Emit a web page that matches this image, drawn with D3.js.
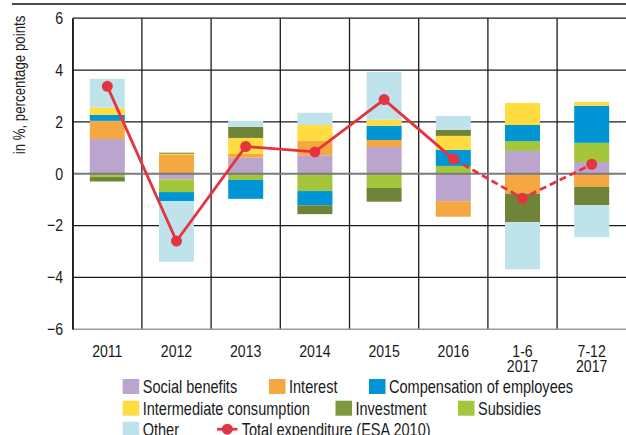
<!DOCTYPE html>
<html><head><meta charset="utf-8">
<script src="https://cdn.jsdelivr.net/npm/d3@7"></script>
<style>
html,body{margin:0;padding:0;background:#fff;}
svg{display:block;}
text{font-family:"Liberation Sans",Arial,sans-serif;fill:#1a1a1a;}
</style></head>
<body>
<svg id="chart" width="626" height="435"></svg>
<script>
const categories = ["2011","2012","2013","2014","2015","2016","1-6 2017","7-12 2017"];
const socialBenefits = [1.34, -0.22, 0.62, 0.71, 1.03, -1.06, 0.88, 0.45];
const interest       = [0.70, 0.72, 0.14, 0.55, 0.27, -0.60, -0.77, -0.51];
const subsidies      = [-0.13, -0.49, -0.24, -0.67, -0.55, 0.30, 0.38, 0.74];
const compensation   = [0.23, -0.35, -0.73, -0.55, 0.55, 0.62, 0.62, 1.43];
const intermediate   = [0.28, 0.05, 0.62, 0.62, 0.23, 0.54, 0.85, 0.15];
const investment     = [-0.17, 0.04, 0.43, -0.34, -0.53, 0.23, -1.10, -0.70];
const other          = [1.11, -2.34, 0.23, 0.47, 1.85, 0.54, -1.82, -1.24];
const totalExpenditure = [3.37, -2.60, 1.05, 0.84, 2.86, 0.57, -0.95, 0.36];
const yTicks = [-6,-4,-2,0,2,4,6];

const seriesDefs = [
  {key:"social", name:"Social benefits", values:socialBenefits, color:"#bba4cd"},
  {key:"interest", name:"Interest", values:interest, color:"#f5a742"},
  {key:"subsidies", name:"Subsidies", values:subsidies, color:"#a3c63b"},
  {key:"comp", name:"Compensation of employees", values:compensation, color:"#0096d6"},
  {key:"inter", name:"Intermediate consumption", values:intermediate, color:"#ffdc3f"},
  {key:"invest", name:"Investment", values:investment, color:"#6f8339"},
  {key:"other", name:"Other", values:other, color:"#bfe3ea"}
];
const colorOf = Object.fromEntries(seriesDefs.map(s=>[s.key,s.color]));
const lineColor = "#e5333f";
const SX = 0.83; // horizontal condensing to mimic a narrow typeface

const table = categories.map((c,i)=>{
  const row = {cat:c};
  seriesDefs.forEach(s=>row[s.key]=s.values[i]);
  return row;
});

const svg = d3.select("#chart");
const pLeft = 72.7, pRight = 626.3, pTop = 18.2, pBottom = 329.2;

function ntext(parent, tx, ty, str, size, anchor, rot){
  const g = parent.append("g").attr("transform",`translate(${tx},${ty})` + (rot?` rotate(${rot})`:"") + ` scale(${SX},1)`);
  const t = g.append("text").attr("text-anchor",anchor||"start").attr("font-size",size);
  const parts = Array.isArray(str) ? str : [str];
  t.selectAll("tspan").data(parts).join("tspan")
    .attr("x",0).attr("dy",(p,i)=>i===0?0:15.5).text(p=>p);
  return t;
}

const x = d3.scaleBand().domain(categories).range([pLeft,pRight]).paddingInner(0.494).paddingOuter(0.247);
const y = d3.scaleLinear().domain([-6,6]).range([pBottom,pTop]);
const step = x.step();
const off = (step - x.bandwidth())/2;

// top rule
svg.append("line").attr("x1",12).attr("x2",626).attr("y1",4).attr("y2",4)
  .attr("stroke","#111").attr("stroke-width",1.3);

// horizontal gridlines
svg.append("g").selectAll("line").data(yTicks.filter(t=>t!==0 && t!==-6)).join("line")
  .attr("x1",pLeft).attr("x2",pRight).attr("y1",d=>y(d)).attr("y2",d=>y(d))
  .attr("stroke","#1a1a1a").attr("stroke-width",1.3);
// vertical gridlines
svg.append("g").selectAll("line").data(categories).join("line")
  .attr("x1",d=>x(d)-off).attr("x2",d=>x(d)-off).attr("y1",pTop).attr("y2",pBottom)
  .attr("stroke","#1a1a1a").attr("stroke-width",1.3);
// bottom line
svg.append("line").attr("x1",pLeft).attr("x2",pRight).attr("y1",y(-6)).attr("y2",y(-6))
  .attr("stroke","#9a9a9a").attr("stroke-width",1.5);

// bars
const stack = d3.stack().keys(seriesDefs.map(s=>s.key))
  .order(d3.stackOrderNone).offset(d3.stackOffsetDiverging);
const stacked = stack(table);
svg.append("g").selectAll("g").data(stacked).join("g")
  .attr("fill",d=>colorOf[d.key])
  .selectAll("rect").data(d=>d).join("rect")
  .attr("x",d=>x(d.data.cat)).attr("width",x.bandwidth())
  .attr("y",d=>y(Math.max(d[0],d[1])))
  .attr("height",d=>Math.abs(y(d[0])-y(d[1])));

// zero line
svg.append("line").attr("x1",pLeft).attr("x2",pRight).attr("y1",y(0)).attr("y2",y(0))
  .attr("stroke","#7a7a7a").attr("stroke-width",2);

// y axis
const yAxis = d3.axisLeft(y).tickValues(yTicks).tickSize(0).tickPadding(0).tickFormat(d3.format("d"));
const gy = svg.append("g").attr("transform",`translate(${pLeft},0)`).call(yAxis);
gy.select(".domain").attr("stroke","#1a1a1a").attr("stroke-width",1.3);
gy.selectAll("text").attr("font-size",17).attr("font-family",null).style("fill","#1a1a1a")
  .attr("x",-9.7/SX).attr("transform",`scale(${SX},1)`);

// x axis labels
categories.forEach(c=>{
  ntext(svg, x(c)+x.bandwidth()/2, 357, c.split(" "), 17, "middle");
});

// axis title
ntext(svg, 25, 85, "in %, percentage points", 16, "middle", -90);

// total line
const lx = d=>x(d)+x.bandwidth()/2;
const pts = categories.map((c,i)=>[lx(c), y(totalExpenditure[i])]);
const line = d3.line();
svg.append("path").attr("d",line(pts.slice(0,6))).attr("fill","none")
  .attr("stroke",lineColor).attr("stroke-width",2.8);
svg.append("path").attr("d",line(pts.slice(5))).attr("fill","none")
  .attr("stroke",lineColor).attr("stroke-width",2.8).attr("stroke-dasharray","7,4");
svg.append("g").selectAll("circle").data(pts).join("circle")
  .attr("cx",d=>d[0]).attr("cy",d=>d[1]).attr("r",5.5).attr("fill",lineColor);

// legend
const legendItems = [
  {key:"social", label:"Social benefits", x:122.7, row:0},
  {key:"interest", label:"Interest", x:269, row:0},
  {key:"comp", label:"Compensation of employees", x:369, row:0},
  {key:"inter", label:"Intermediate consumption", x:122.7, row:1},
  {key:"invest", label:"Investment", x:335.5, row:1, color:"#7f993e"},
  {key:"subsidies", label:"Subsidies", x:458, row:1},
  {key:"other", label:"Other", x:122.7, row:2}
];
const rowY = [379, 400.7, 421.7];
const lg = svg.append("g");
legendItems.forEach(it=>{
  lg.append("rect").attr("x",it.x).attr("y",rowY[it.row]).attr("width",16.5).attr("height",15)
    .attr("fill",it.color||colorOf[it.key]);
  ntext(lg, it.x+20, rowY[it.row]+14.2, it.label, 17.5);
});
lg.append("line").attr("x1",217).attr("x2",237.5).attr("y1",rowY[2]+7.5).attr("y2",rowY[2]+7.5)
  .attr("stroke",lineColor).attr("stroke-width",2.8);
lg.append("circle").attr("cx",227.3).attr("cy",rowY[2]+7.5).attr("r",5.5).attr("fill",lineColor);
ntext(lg, 241.7, rowY[2]+14.2, "Total expenditure (ESA 2010)", 17.5);
</script>
</body></html>
